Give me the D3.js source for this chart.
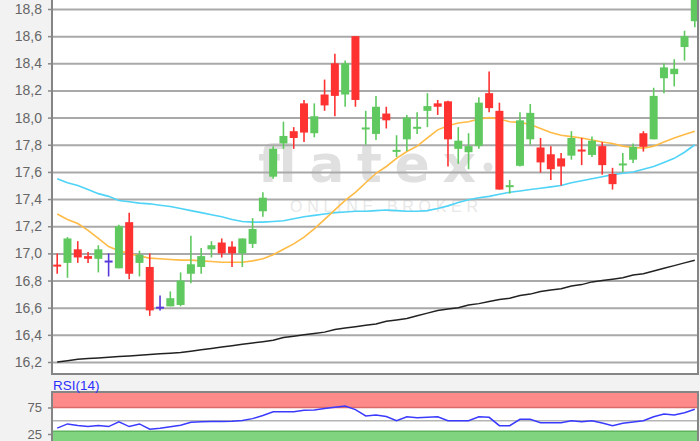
<!DOCTYPE html>
<meta charset="utf-8">
<title>Chart</title>
<style>
body { margin: 0; background: #f2f2f2; font-family: Arial, "Liberation Sans", sans-serif; }
svg { display: block; }
.grid line { stroke: #a9a9a9; stroke-width: 2; }
.grid path { display: none; }
.axis path { display: none; }
.axis line { stroke: #888; stroke-width: 1.5; }
.axis text { fill: #666; font-size: 14px; font-family: Arial, "Liberation Sans", sans-serif; }
</style>
<body>
<script src="https://d3js.org/d3.v7.min.js"></script>
<script>

// daily prices (open / high / low / close)
var open  = [16.915, 16.93, 17.03, 16.98, 16.96, 16.94, 16.89, 17.23, 16.93, 16.90,
             16.60, 16.61, 16.62, 16.85, 16.90, 17.03, 17.08, 17.05, 17.00, 17.07,
             17.31, 17.565, 17.81, 17.90, 18.105, 17.885, 18.17, 18.40, 18.17, 18.60,
             17.915, 17.88, 18.03, 17.75, 17.84, 17.92, 18.05, 18.105, 18.12, 17.77,
             17.745, 17.79, 18.18, 18.05, 17.49, 17.645, 17.84, 17.78, 17.73, 17.70,
             17.72, 17.765, 17.725, 17.79, 17.585, 17.65, 17.69, 17.885, 17.84, 18.29,
             18.32, 18.52, 18.71];
var high  = [17.00, 17.12, 17.09, 17.01, 17.06, 17.00, 17.21, 17.30, 17.02, 17.00,
             16.69, 16.72, 16.86, 17.13, 17.04, 17.09, 17.11, 17.09, 17.11, 17.26,
             17.45, 17.79, 17.97, 17.93, 18.13, 18.105, 18.28, 18.47, 18.42, 18.60,
             18.05, 18.16, 18.08, 17.87, 18.02, 18.04, 18.18, 18.13, 18.125, 17.93,
             17.885, 18.15, 18.34, 18.11, 17.54, 18.04, 18.10, 17.85, 17.79, 17.74,
             17.90, 17.85, 17.86, 17.82, 17.63, 17.74, 17.81, 17.90, 18.22, 18.40,
             18.43, 18.64, 18.95];
var low   = [16.85, 16.82, 16.93, 16.93, 16.86, 16.83, 16.89, 16.81, 16.83, 16.54,
             16.58, 16.61, 16.61, 16.78, 16.85, 16.97, 16.97, 16.90, 16.90, 17.04,
             17.27, 17.55, 17.77, 17.77, 17.82, 17.855, 18.05, 18.01, 18.08, 18.08,
             17.80, 17.835, 17.92, 17.71, 17.755, 17.88, 17.93, 18.02, 17.64, 17.66,
             17.62, 17.77, 18.04, 17.47, 17.44, 17.64, 17.80, 17.595, 17.54, 17.50,
             17.69, 17.65, 17.71, 17.58, 17.47, 17.60, 17.665, 17.75, 17.84, 18.18,
             18.23, 18.42, 18.665];
var close = [16.905, 17.11, 16.97, 16.96, 17.03, 16.94, 17.20, 16.85, 16.99, 16.58,
             16.60, 16.67, 16.80, 16.92, 16.98, 17.06, 17.00, 17.00, 17.11, 17.18,
             17.41, 17.77, 17.865, 17.85, 17.89, 18.01, 18.09, 18.16, 18.40, 18.13,
             17.925, 18.08, 17.98, 17.76, 18.00, 17.93, 18.085, 18.08, 17.84, 17.83,
             17.79, 18.11, 18.07, 17.47, 17.50, 17.98, 18.035, 17.67, 17.62, 17.64,
             17.85, 17.75, 17.83, 17.65, 17.51, 17.66, 17.785, 17.785, 18.16, 18.37,
             18.36, 18.60, 18.95];

// moving averages
var maCyan = [17.55, 17.52, 17.50, 17.47, 17.44, 17.42, 17.39, 17.38, 17.37, 17.365,
              17.355, 17.345, 17.33, 17.315, 17.30, 17.285, 17.27, 17.25, 17.235, 17.23,
              17.23, 17.235, 17.24, 17.255, 17.27, 17.28, 17.29, 17.30, 17.305, 17.31,
              17.31, 17.315, 17.32, 17.315, 17.31, 17.31, 17.315, 17.33, 17.35, 17.375,
              17.395, 17.41, 17.42, 17.435, 17.45, 17.46, 17.47, 17.48, 17.49, 17.50,
              17.52, 17.535, 17.55, 17.565, 17.58, 17.59, 17.60, 17.62, 17.64, 17.67,
              17.70, 17.745, 17.80];
var maOrange = [17.29, 17.25, 17.22, 17.17, 17.11, 17.05, 17.02, 17.00, 16.98, 16.965,
                16.96, 16.955, 16.95, 16.95, 16.945, 16.94, 16.935, 16.935, 16.935, 16.945,
                16.96, 16.99, 17.03, 17.07, 17.12, 17.18, 17.25, 17.32, 17.39, 17.45,
                17.52, 17.59, 17.64, 17.70, 17.75, 17.79, 17.85, 17.91, 17.94, 17.96,
                17.97, 17.99, 18.00, 17.99, 17.97, 17.965, 17.95, 17.92, 17.89, 17.87,
                17.86, 17.85, 17.835, 17.82, 17.81, 17.79, 17.78, 17.775, 17.79, 17.82,
                17.85, 17.875, 17.90];
var maBlack = [16.20, 16.21, 16.22, 16.225, 16.23, 16.235, 16.24, 16.245, 16.25, 16.255,
               16.26, 16.265, 16.27, 16.28, 16.29, 16.30, 16.31, 16.32, 16.33, 16.34,
               16.35, 16.36, 16.38, 16.39, 16.40, 16.41, 16.42, 16.44, 16.45, 16.46,
               16.47, 16.48, 16.50, 16.51, 16.52, 16.54, 16.56, 16.58, 16.59, 16.60,
               16.62, 16.63, 16.645, 16.66, 16.67, 16.69, 16.70, 16.72, 16.73, 16.74,
               16.76, 16.77, 16.79, 16.80, 16.81, 16.82, 16.84, 16.85, 16.87, 16.89,
               16.91, 16.93, 16.95];

// RSI(14)
var rsi = [36, 44, 41, 39, 41, 39, 48, 39, 44, 34,
           36, 38.5, 41.4, 47, 48, 48.4, 48.6, 49, 50.5, 54,
           60, 67, 67, 67, 70, 70.3, 73, 75.4, 77.8, 71,
           59, 61, 58, 50, 57.5, 55.8, 56.5, 57.5, 50, 50,
           50, 57.5, 56.5, 40.7, 40.7, 52.7, 52.7, 46.3, 46.3, 46.3,
           50, 48, 50, 45.7, 40.7, 45.2, 47.6, 50, 57.6, 62.7,
           60.8, 65.2, 71.6];

// tick labels
var yTicks = [16.2, 16.4, 16.6, 16.8, 17.0, 17.2, 17.4, 17.6, 17.8, 18.0, 18.2, 18.4, 18.6, 18.8];
var rsiTicks = [75, 25];

// layout
var width = 700, height = 441;
var plot = {left: 52, right: 698, top: -10, bottom: 374};
var panel = {top: 392, bottom: 470};

var upColor = "#5fc95f", downColor = "#ff3232", flatColor = "#5838d8";

var de = d3.formatLocale({decimal: ",", thousands: ".", grouping: [3], currency: ["", " €"]});
var fmt = de.format(".1f");

var svg = d3.select("body").append("svg")
    .attr("width", width)
    .attr("height", height);

// scales
var x = d3.scaleLinear().domain([0, open.length - 1]).range([57.2, 694.8]);
var y = d3.scaleLinear().domain([16.2, 18.8]).range([362, 9]);
var yRsi = d3.scaleLinear().domain([25, 75]).range([434, 407.5]);

svg.append("clipPath").attr("id", "clipMain")
  .append("rect")
    .attr("x", plot.left).attr("y", plot.top)
    .attr("width", plot.right - plot.left).attr("height", plot.bottom - plot.top);

// plot background
svg.append("rect")
    .attr("x", plot.left).attr("y", plot.top)
    .attr("width", plot.right - plot.left).attr("height", plot.bottom - plot.top)
    .attr("fill", "#fff");

// watermark
var wm = svg.append("g").attr("clip-path", "url(#clipMain)");
wm.append("text")
    .attr("x", 258).attr("y", 182)
    .attr("textLength", 218).attr("lengthAdjust", "spacing")
    .style("font-size", "52px").style("font-weight", "bold")
    .style("font-family", "'DejaVu Sans', sans-serif")
    .attr("fill", "#e0e0e0")
    .text("flatex");
wm.append("circle").attr("cx", 488).attr("cy", 167).attr("r", 4.5).attr("fill", "#e0e0e0");
wm.append("text")
    .attr("x", 290).attr("y", 211.5)
    .attr("textLength", 188).attr("lengthAdjust", "spacing")
    .style("font-size", "16px")
    .style("font-family", "Arial, 'Liberation Sans', sans-serif")
    .attr("fill", "#e8e8e8")
    .text("ONLINE BROKER");

// grid lines
svg.append("g")
    .attr("class", "grid")
    .attr("transform", "translate(" + plot.left + ",0)")
    .call(d3.axisLeft(y).tickValues(yTicks).tickSize(-(plot.right - plot.left)).tickFormat(""));

var main = svg.append("g").attr("clip-path", "url(#clipMain)");

// moving average lines
var maLine = d3.line()
    .x(function(d, i) { return x(i); })
    .y(function(d) { return y(d); });

main.append("path").datum(maBlack).attr("d", maLine)
    .attr("fill", "none").attr("stroke", "#222").attr("stroke-width", 1.5);
main.append("path").datum(maCyan).attr("d", maLine)
    .attr("fill", "none").attr("stroke", "#4fd3f6").attr("stroke-width", 1.6);
main.append("path").datum(maOrange).attr("d", maLine)
    .attr("fill", "none").attr("stroke", "#ffbb45").attr("stroke-width", 1.6);

// candles
function colorOf(i) {
  if (close[i] > open[i]) return upColor;
  if (close[i] < open[i]) return downColor;
  return flatColor;
}

var candle = main.selectAll(".candle")
    .data(d3.range(open.length))
    .join("g")
    .attr("class", "candle");

candle.append("line")
    .attr("x1", function(i) { return x(i); })
    .attr("x2", function(i) { return x(i); })
    .attr("y1", function(i) { return y(high[i]); })
    .attr("y2", function(i) { return y(low[i]); })
    .attr("stroke", colorOf)
    .attr("stroke-width", 1.6);

candle.append("rect")
    .attr("x", function(i) { return x(i) - 4; })
    .attr("width", 8)
    .attr("y", function(i) {
      var top = y(Math.max(open[i], close[i])), bot = y(Math.min(open[i], close[i]));
      return bot - top < 2 ? (top + bot) / 2 - 1 : top;
    })
    .attr("height", function(i) {
      return Math.max(2, Math.abs(y(open[i]) - y(close[i])));
    })
    .attr("fill", colorOf);

// frame of the price plot
svg.append("path")
    .attr("d", "M" + plot.left + "," + plot.top + "V" + plot.bottom + "H" + plot.right + "V" + plot.top)
    .attr("fill", "none").attr("stroke", "#858585").attr("stroke-width", 2);

// price axis
svg.append("g")
    .attr("class", "axis")
    .attr("transform", "translate(" + plot.left + ",0)")
    .call(d3.axisLeft(y).tickValues(yTicks).tickSize(4).tickPadding(6).tickFormat(fmt));

// RSI panel
svg.append("rect")
    .attr("x", plot.left).attr("y", panel.top)
    .attr("width", plot.right - plot.left).attr("height", panel.bottom - panel.top)
    .attr("fill", "#fff");

svg.append("rect")
    .attr("x", plot.left).attr("y", panel.top)
    .attr("width", plot.right - plot.left).attr("height", yRsi(75) - panel.top)
    .attr("fill", "#ff8a8a");
svg.append("line")
    .attr("x1", plot.left).attr("x2", plot.right)
    .attr("y1", yRsi(75)).attr("y2", yRsi(75))
    .attr("stroke", "#d86a6a").attr("stroke-width", 1.5);

svg.append("rect")
    .attr("x", plot.left).attr("y", yRsi(30))
    .attr("width", plot.right - plot.left).attr("height", panel.bottom - yRsi(30))
    .attr("fill", "#80d480");
svg.append("line")
    .attr("x1", plot.left).attr("x2", plot.right)
    .attr("y1", yRsi(30)).attr("y2", yRsi(30))
    .attr("stroke", "#5fb35f").attr("stroke-width", 1.5);

svg.append("line")
    .attr("x1", plot.left).attr("x2", plot.right)
    .attr("y1", yRsi(50)).attr("y2", yRsi(50))
    .attr("stroke", "#b5b5b5").attr("stroke-width", 1.5);

var rsiLine = d3.line()
    .x(function(d, i) { return x(i); })
    .y(function(d) { return yRsi(d); });

svg.append("path").datum(rsi).attr("d", rsiLine)
    .attr("fill", "none").attr("stroke", "#3a3aff").attr("stroke-width", 1.5);

svg.append("rect")
    .attr("x", plot.left).attr("y", panel.top)
    .attr("width", plot.right - plot.left).attr("height", panel.bottom - panel.top)
    .attr("fill", "none").attr("stroke", "#858585").attr("stroke-width", 2);

svg.append("g")
    .attr("class", "axis")
    .attr("transform", "translate(" + plot.left + ",0)")
    .call(d3.axisLeft(yRsi).tickValues(rsiTicks).tickSize(4).tickPadding(6))
    .selectAll("text").style("font-size", "13px");

svg.append("text")
    .attr("x", 53).attr("y", 389.5)
    .style("font-size", "13.5px")
    .style("font-family", "Arial, 'Liberation Sans', sans-serif")
    .attr("fill", "#2f2fff")
    .text("RSI(14)");

</script>
</body>
